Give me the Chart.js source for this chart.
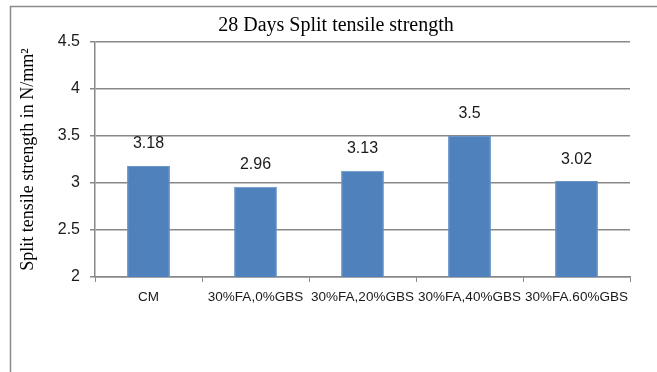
<!DOCTYPE html>
<html>
<head>
<meta charset="utf-8">
<title>28 Days Split tensile strength</title>
<script src="https://cdn.jsdelivr.net/npm/chart.js@4.4.1/dist/chart.umd.min.js"></script>
<style>
    body { margin: 0; background: #fff; }
    canvas { display: block; }
</style>
</head>
<body>
<canvas id="strengthChart" width="657" height="372"></canvas>
<script>
// Chart data
const mixes = ['CM', '30%FA,0%GBS', '30%FA,20%GBS', '30%FA,40%GBS', '30%FA.60%GBS'];
const strength = [3.18, 2.96, 3.13, 3.5, 3.02];
const valueLabels = ['3.18', '2.96', '3.13', '3.5', '3.02'];
const yTicks = ['2', '2.5', '3', '3.5', '4', '4.5'];

const chartTitle = '28 Days Split tensile strength';
const yTitle = 'Split tensile strength in N/mm\u00B2';

// Frame + title drawn on the canvas
const framePlugin = {
    id: 'frame',
    beforeDraw(chart) {
        const c = chart.ctx;
        c.save();
        c.strokeStyle = '#8a8a8a';
        c.lineWidth = 1.5;
        c.beginPath();
        c.moveTo(10.5, 372);
        c.lineTo(10.5, 6.5);
        c.lineTo(657, 6.5);
        c.stroke();
        c.fillStyle = '#000';
        c.font = '20px "Liberation Serif", "Times New Roman", serif';
        c.textAlign = 'center';
        c.textBaseline = 'middle';
        c.fillText(chartTitle, 336, 26);
        c.restore();
    }
};

// Value labels above the bars
const valuePlugin = {
    id: 'values',
    afterDatasetsDraw(chart) {
        const c = chart.ctx;
        const meta = chart.getDatasetMeta(0);
        c.save();
        c.fillStyle = '#1a1a1a';
        c.font = '16px "Liberation Sans", Arial, sans-serif';
        c.textAlign = 'center';
        c.textBaseline = 'middle';
        meta.data.forEach((bar, i) => {
            c.fillText(valueLabels[i], bar.x, bar.y - 22);
        });
        c.restore();
    }
};

const ctx = document.getElementById('strengthChart').getContext('2d');
const strengthChart = new Chart(ctx, {
    type: 'bar',
    data: {
        labels: mixes,
        datasets: [{
            data: strength,
            backgroundColor: '#4f81bd',
            borderColor: '#6b95c9',
            borderWidth: 1,
            barPercentage: 0.4,
            categoryPercentage: 1
        }]
    },
    options: {
        responsive: false,
        animation: false,
        devicePixelRatio: 1,
        layout: {
            padding: { top: 42, right: 27, bottom: 55, left: 0 }
        },
        plugins: {
            legend: { display: false },
            title: { display: false },
            tooltip: { enabled: false }
        },
        scales: {
            x: {
                afterFit(scale) { scale.height = 40; },
                grid: {
                    drawOnChartArea: false,
                    drawTicks: true,
                    tickLength: 5,
                    color: '#888'
                },
                border: { color: '#888', width: 1.5 },
                ticks: {
                    color: '#1a1a1a',
                    font: { family: '"Liberation Sans", Arial, sans-serif', size: 13.5 },
                    padding: 7,
                    maxRotation: 0,
                    minRotation: 0,
                    autoSkip: false
                }
            },
            y: {
                min: 2,
                max: 4.5,
                afterFit(scale) { scale.width = 95; },
                grid: {
                    color: '#888',
                    lineWidth: 1.5,
                    tickLength: 5
                },
                border: { color: '#888', width: 1.5 },
                ticks: {
                    stepSize: 0.5,
                    color: '#1a1a1a',
                    font: { family: '"Liberation Sans", Arial, sans-serif', size: 16 },
                    padding: 10,
                    callback: (value, index) => yTicks[index]
                },
                title: {
                    display: true,
                    text: yTitle,
                    color: '#000',
                    font: { family: '"Liberation Serif", "Times New Roman", serif', size: 18 },
                    padding: { top: 17, bottom: 0 }
                }
            }
        }
    },
    plugins: [framePlugin, valuePlugin]
});
</script>
</body>
</html>
